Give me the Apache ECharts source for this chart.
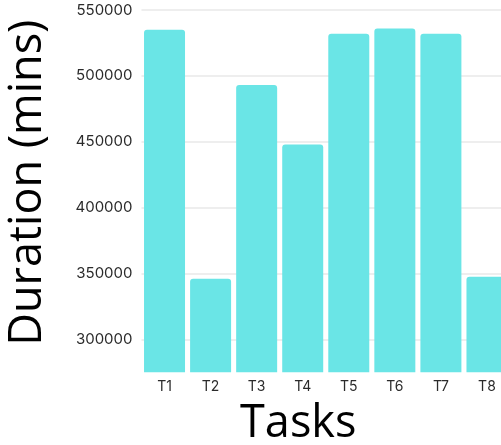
<!DOCTYPE html>
<html>
<head>
<meta charset="utf-8">
<style>
  html, body { margin: 0; padding: 0; background: #ffffff; }
  #chart { width: 501px; height: 445px; }
</style>
<script src="https://cdn.jsdelivr.net/npm/echarts@6/dist/echarts.min.js"></script>
</head>
<body>
<div id="chart"></div>
<script>
// Task durations in minutes
const tasks = ['T1', 'T2', 'T3', 'T4', 'T5', 'T6', 'T7', 'T8'];
const durations = [535000, 346000, 493000, 448000, 532000, 536000, 532000, 347500];
const yMin = 275000;
const yMax = 550000;

const chart = echarts.init(document.getElementById('chart'), null, { renderer: 'canvas' });

chart.setOption({
  animation: false,
  backgroundColor: '#ffffff',
  grid: {
    left: 141.5,
    right: -9,
    top: 10,
    bottom: 72.7,
    containLabel: false,
    outerBoundsMode: 'none'
  },
  xAxis: {
    type: 'category',
    data: tasks,
    name: 'Tasks',
    nameLocation: 'middle',
    nameGap: 29,
    nameTextStyle: {
      fontFamily: 'Open Sans',
      fontSize: 45,
      color: '#000000',
      padding: [0, 55, 0, 0]
    },
    axisLine: { show: false },
    axisTick: { show: false },
    axisLabel: {
      margin: 7,
      fontFamily: 'Inter',
      fontSize: 14,
      color: '#2b2b2b'
    }
  },
  yAxis: {
    type: 'value',
    min: yMin,
    max: yMax,
    name: 'Duration (mins)',
    nameLocation: 'middle',
    nameGap: 91,
    nameTextStyle: {
      fontFamily: 'Open Sans',
      fontSize: 45,
      color: '#000000',
      padding: [0, 0, 0, 17]
    },
    axisLine: { show: false },
    axisTick: { show: false },
    axisLabel: {
      margin: 9,
      fontFamily: 'Inter',
      fontSize: 15,
      color: '#2b2b2b',
      showMinLabel: false,
      formatter: (v) => String(v)
    },
    splitLine: {
      showMinLine: false,
      lineStyle: { color: '#e8e8e8', width: 1.5 }
    }
  },
  series: [{
    type: 'bar',
    data: durations,
    barCategoryGap: '11%',
    itemStyle: {
      color: '#6ae5e6',
      borderRadius: [3, 3, 0, 0]
    }
  }]
});
</script>
</body>
</html>
